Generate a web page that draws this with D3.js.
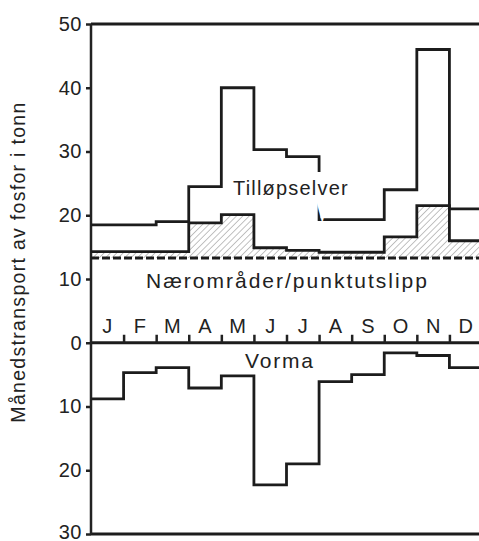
<!DOCTYPE html>
<html>
<head>
<meta charset="utf-8">
<script src="https://cdn.jsdelivr.net/npm/d3@7"></script>
<style>
  body { margin: 0; background: #fff; }
  svg { display: block; }
  text { font-family: "Liberation Sans", Arial, sans-serif; fill: #222; }
  .axis path, .axis line { stroke: #222; stroke-width: 2.5; }
  .axis text { font-size: 20px; letter-spacing: 0.5px; font-family: "Liberation Sans", Arial, sans-serif; fill: #222; }
  .step { fill: none; stroke: #1c1c1c; stroke-width: 2.8; stroke-linejoin: miter; }
</style>
</head>
<body>
<div id="chart"></div>
<script>
(function () {
  const width = 479;
  const height = 541;

  // monthly phosphorus transport, tonnes
  const months = ["J", "F", "M", "A", "M", "J", "J", "A", "S", "O", "N", "D"];
  const tillopselver = [18.5, 18.5, 19.0, 24.5, 40.0, 30.3, 29.2, 19.3, 19.3, 24.0, 46.0, 21.0];
  const naeromrader = [14.3, 14.3, 14.3, 18.8, 20.1, 14.9, 14.5, 14.2, 14.2, 16.6, 21.5, 16.0];
  const punktutslipp = 13.3;
  const vorma = [8.8, 4.7, 3.9, 7.1, 5.2, 22.3, 19.0, 6.1, 5.0, 1.6, 2.0, 3.9];
  const upperTicks = [0, 10, 20, 30, 40, 50];
  const lowerTicks = [-10, -20, -30];

  const x = d3.scaleLinear().domain([0, 12]).range([91, 482]);
  const y = d3.scaleLinear().domain([-30, 50]).range([534, 24]);

  const svg = d3.select("#chart").append("svg")
    .attr("width", width)
    .attr("height", height);

  const defs = svg.append("defs");
  const pattern = defs.append("pattern")
    .attr("id", "hatch")
    .attr("patternUnits", "userSpaceOnUse")
    .attr("width", 4.5)
    .attr("height", 4.5)
    .attr("patternTransform", "rotate(45)");
  pattern.append("line")
    .attr("x1", 0).attr("y1", 0)
    .attr("x2", 0).attr("y2", 4.5)
    .attr("stroke", "#777")
    .attr("stroke-width", 0.9);

  // turn month values into step points
  function steps(values, sign) {
    const pts = [];
    values.forEach(function (v, i) {
      pts.push([i, v * sign]);
      pts.push([i + 1, v * sign]);
    });
    return pts;
  }

  const line = d3.line()
    .x(function (d) { return x(d[0]); })
    .y(function (d) { return y(d[1]); });

  const area = d3.area()
    .x(function (d) { return x(d[0]); })
    .y0(y(punktutslipp))
    .y1(function (d) { return y(d[1]); });

  // hatched near-areas band
  svg.append("path")
    .attr("d", area(steps(naeromrader, 1)))
    .attr("fill", "url(#hatch)");

  // frame lines: top, zero, bottom
  [50, 0, -30].forEach(function (v) {
    svg.append("line")
      .attr("x1", x(0)).attr("x2", x(12))
      .attr("y1", y(v)).attr("y2", y(v))
      .attr("stroke", "#1c1c1c")
      .attr("stroke-width", 2.8);
  });

  // left axis
  const axis = svg.append("g")
    .attr("class", "axis")
    .attr("transform", "translate(" + x(0) + ",0)")
    .call(d3.axisLeft(y)
      .tickValues(upperTicks.concat(lowerTicks))
      .tickSize(5)
      .tickPadding(4)
      .tickFormat(function (d) { return Math.abs(d); }));
  axis.select(".domain").attr("d", "M0," + y(50) + "V" + y(-30));
  axis.selectAll(".tick text")
    .filter(function (d) { return d === -30; })
    .attr("dy", "0.2em");

  // month ticks along zero line
  const monthAxis = svg.append("g")
    .attr("class", "axis")
    .attr("transform", "translate(0," + y(0) + ")")
    .call(d3.axisTop(x)
      .tickValues(d3.range(1, 12))
      .tickSize(8)
      .tickFormat(""));
  monthAxis.select(".domain").remove();
  monthAxis.selectAll("line").attr("stroke-width", 1.8);

  svg.append("g").selectAll("text")
    .data(months)
    .join("text")
    .attr("x", function (d, i) { return x(i + 0.5); })
    .attr("y", y(0) - 10)
    .attr("text-anchor", "middle")
    .attr("font-size", 20)
    .text(function (d) { return d; });

  // point sources dashed line
  svg.append("line")
    .attr("x1", x(0)).attr("x2", x(12))
    .attr("y1", y(punktutslipp)).attr("y2", y(punktutslipp))
    .attr("stroke", "#1c1c1c")
    .attr("stroke-width", 3)
    .attr("stroke-dasharray", "8,3");

  svg.append("path")
    .attr("class", "step")
    .attr("d", line(steps(naeromrader, 1)));

  svg.append("path")
    .attr("class", "step")
    .attr("d", line(steps(tillopselver, 1)));

  svg.append("path")
    .attr("class", "step")
    .attr("d", line(steps(vorma, -1)));

  // series labels
  svg.append("text")
    .attr("x", 233).attr("y", 195)
    .attr("font-size", 20)
    .attr("letter-spacing", 1.2)
    .attr("stroke", "#fff")
    .attr("stroke-width", 16)
    .attr("paint-order", "stroke")
    .text("Tilløpselver");

  svg.append("text")
    .attr("x", 146).attr("y", 288)
    .attr("font-size", 21)
    .attr("letter-spacing", 2)
    .text("Nærområder/punktutslipp");

  svg.append("text")
    .attr("x", 245).attr("y", 368)
    .attr("font-size", 21)
    .attr("letter-spacing", 1.8)
    .text("Vorma");

  svg.append("text")
    .attr("transform", "translate(25,262) rotate(-90)")
    .attr("text-anchor", "middle")
    .attr("font-size", 19.5)
    .attr("letter-spacing", 1.3)
    .text("Månedstransport av fosfor i tonn");
})();
</script>
</body>
</html>
